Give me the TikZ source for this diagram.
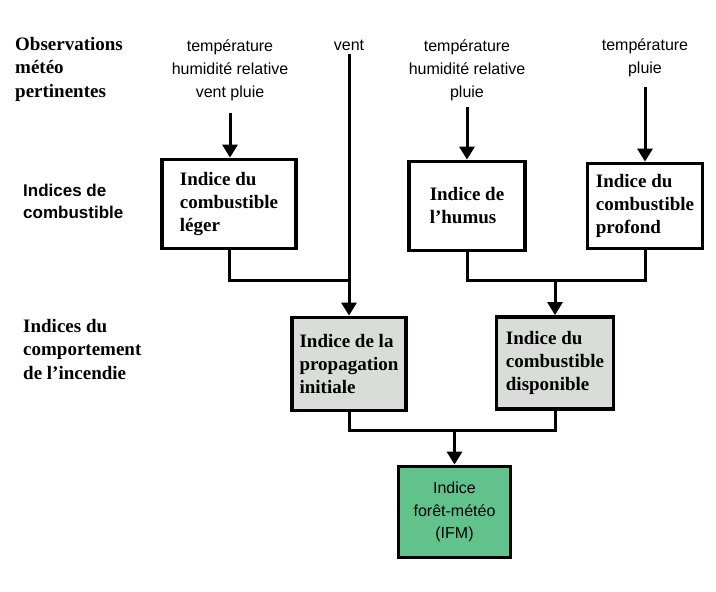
\documentclass[tikz,border=0pt]{standalone}
\usepackage{fontspec}
\setmainfont{Liberation Serif}
\setsansfont{Liberation Sans}
\usetikzlibrary{arrows.meta}
\definecolor{boxgray}{RGB}{218,220,218}
\definecolor{ifmgreen}{RGB}{98,194,140}
\tikzset{
  obs/.style={font=\sffamily\fontsize{16}{23}\selectfont, align=center, inner sep=0pt, anchor=north},
  rowlabel/.style={font=\bfseries\fontsize{19}{23.5}\selectfont, align=left, inner sep=0pt, anchor=north west},
  idxbox/.style={draw, line width=3.8pt, fill=white, align=left, inner sep=0pt,
    font=\bfseries\fontsize{19}{23}\selectfont},
  conn/.style={line width=3pt},
  arr/.style={line width=3pt, -{Triangle[length=13pt,width=15pt]}},
}
\begin{document}
\begin{tikzpicture}[x=1pt,y=-1pt]
\useasboundingbox[fill=white] (0,0) rectangle (716,592);

% row labels
\node[rowlabel] (lobs) at (15,37) {Observations\\météo\\pertinentes};
\node[font=\sffamily\bfseries\fontsize{17}{22}\selectfont, align=left, inner sep=0pt, anchor=north west] (lcomb) at (23,184) {Indices de\\combustible};
\node[rowlabel] (lcomp) at (23,319) {Indices du\\comportement\\de l'incendie};

% observations
\node[obs] (t1) at (230,40) {température\\humidité relative\\vent pluie};
\node[obs] (vent) at (349,40) {vent};
\node[obs] (t2) at (467,40) {température\\humidité relative\\pluie};
\node[obs] (t3) at (645,39) {température\\pluie};

% boxes
\node[idxbox, minimum width=134pt, minimum height=89pt] (b1) at (229,204) {Indice du\\combustible\\léger};
\node[idxbox, minimum width=116pt, minimum height=89pt] (b2) at (467,206) {Indice de\\l'humus};
\node[idxbox, minimum width=115pt, minimum height=85pt] (b3) at (645,206) {Indice du\\combustible\\profond};
\node[idxbox, fill=boxgray, minimum width=114pt, minimum height=93pt] (b4) at (349,364) {Indice de la\\propagation\\initiale};
\node[idxbox, fill=boxgray, minimum width=117pt, minimum height=92pt] (b5) at (555,363) {Indice du\\combustible\\disponible};
\node[idxbox, fill=ifmgreen, minimum width=112pt, minimum height=91pt,
      font=\sffamily\fontsize{16}{22.5}\selectfont, align=center] (b6) at (454.5,512) {Indice\\forêt-météo\\(IFM)};

% junction points
\coordinate (j1) at (349,280);
\coordinate (j2) at (555,280);
\coordinate (j3) at (454.5,430);

% arrows from observations
\draw[arr, shorten <=11pt] (t1.south) -- (t1.south |- b1.north);
\draw[arr, shorten <=5pt] (t2.south) -- (t2.south |- b2.north);
\draw[arr, shorten <=9pt] (t3.south) -- (t3.south |- b3.north);
\draw[arr, shorten <=3pt] (vent.south) -- (vent.south |- b4.north);

% fuel indices to behaviour indices
\draw[conn] (b1.south) |- (j1);
\draw[conn] (b2.south) |- (j2) -| (b3.south);
\draw[arr] (j2) -- (b5.north);

% behaviour indices to FWI
\draw[conn] (b4.south) |- (j3) -| (b5.south);
\draw[arr] (j3) -- (b6.north);
\end{tikzpicture}
\end{document}
